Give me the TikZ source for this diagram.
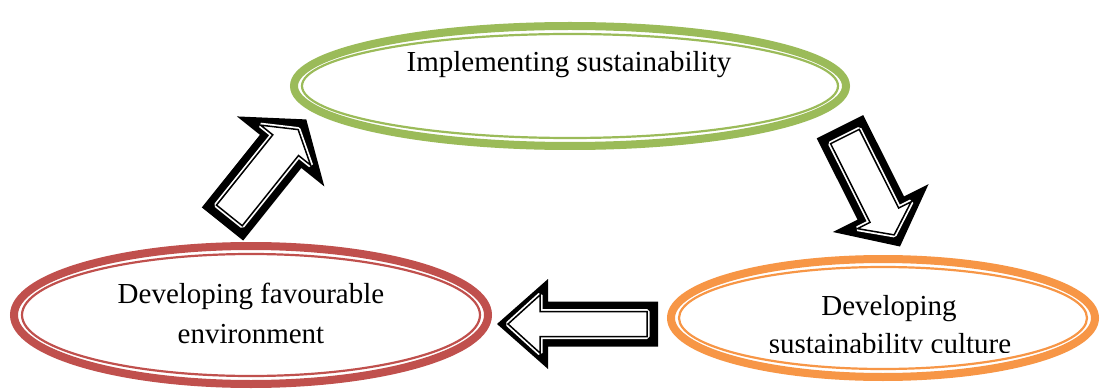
\documentclass[tikz,border=0pt]{standalone}
\usepackage{fontspec}
\setmainfont{Liberation Serif}
\definecolor{ogreen}{HTML}{9BBB59}
\definecolor{ored}{HTML}{C0504D}
\definecolor{oorange}{HTML}{F79646}
\tikzset{
  % block arrow along +x: tail, shaft half width, head base, head half width, tip
  arrowpoly/.style n args={5}{insert path={(#1,-#2) -- (#3,-#2) -- (#3,-#4) -- (#5,0) -- (#3,#4) -- (#3,#2) -- (#1,#2) -- cycle}},
  label text/.style={font=\fontsize{29}{34}\selectfont, inner sep=0pt, anchor=base},
}
% ellipse with a thick outer band and a thin inner line: colour, centre x, centre y, outer rx, outer ry
\newcommand{\ringellipse}[5]{%
  \draw[#1, line width=8pt] (#2,#3) ellipse [x radius=#4-4, y radius=#5-4];
  \draw[#1, line width=2.2pt] (#2,#3) ellipse [x radius=#4-12, y radius=#5-12];
}
% outlined block arrow: tail position, direction, outer outline, inner line
\newcommand{\blockarrow}[4]{%
  \begin{scope}[shift={#1}, rotate=#2]
    \fill[black, arrowpoly=#3];
    \path[fill=white, draw=white, line width=5pt, line join=bevel, arrowpoly=#4];
    \draw[black, line width=1.5pt, arrowpoly=#4];
  \end{scope}
}
\begin{document}
\begin{tikzpicture}[x=1pt, y=-1pt]
  \useasboundingbox[fill=white] (0,0) rectangle (1100,390);

  \ringellipse{ogreen}{570}{86}{280}{64}
  \ringellipse{ored}{251}{315}{241}{73}
  \ringellipse{oorange}{883}{318}{216}{63}

  \blockarrow{(222.5,224)}{51.3}{{0}{26.5}{93}{56}{134}}{{11}{16.5}{101}{32}{121}}
  \blockarrow{(840,126.7)}{-63.4}{{0}{26}{91}{53.5}{134}}{{11}{16}{99}{30}{121}}
  \blockarrow{(658,324)}{180}{{0}{22.5}{110}{45}{161}}{{11}{12.5}{118}{29}{150}}

  \node[label text] (impl) at (569,72) {Implementing sustainability};
  \node[label text] (env1) at (251,303) {Developing favourable};
  \node[label text] (env2) at (251,343) {environment};
  \begin{scope}
    \clip (640,240) rectangle (1100,352);
    \node[label text] (cult1) at (889,315) {Developing};
    \node[label text] (cult2) at (890,353) {sustainability culture};
  \end{scope}
\end{tikzpicture}
\end{document}
